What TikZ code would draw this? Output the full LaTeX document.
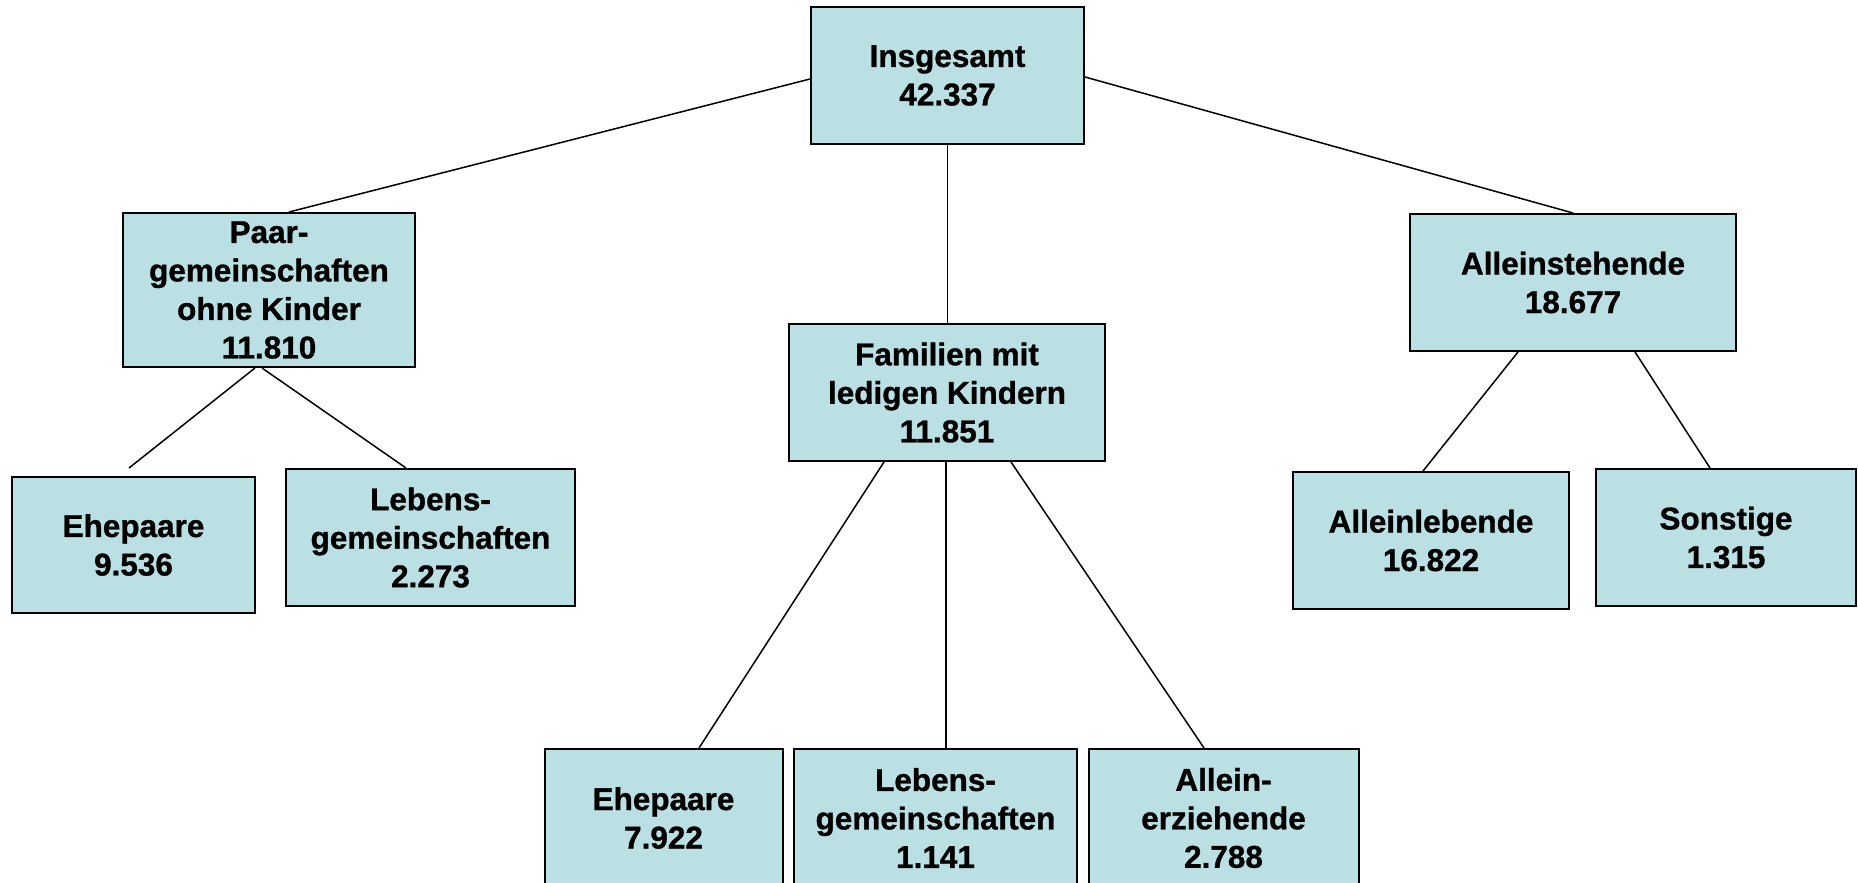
\documentclass[tikz,border=0pt]{standalone}
\usepackage{fontspec}
\setmainfont{Liberation Sans}
\newfontfamily\boxfont{Liberation Sans Bold}[FakeBold=1]
\definecolor{boxfill}{RGB}{187,224,227}
\begin{document}
\begin{tikzpicture}[x=1pt,y=1pt,
  box/.style={draw=black, line width=2pt, fill=boxfill, inner sep=0pt,
    align=center, font=\boxfont\fontsize{31.5}{38.5}\selectfont},
  link/.style={draw=black, line width=1.5pt}]
\useasboundingbox (0,0) rectangle (1858,-883);
\clip (0,0) rectangle (1858,-883);
\fill[white] (0,0) rectangle (1858,-883);
% top
\node[box, minimum width=273, minimum height=137] (ins) at (947.5,-75.5) {Insgesamt\\42.337};
% level 2
\node[box, minimum width=292, minimum height=154] (paar) at (269,-290) {Paar-\\gemeinschaften\\ohne Kinder\\11.810};
\node[box, minimum width=316, minimum height=137] (fam) at (947,-392.5) {Familien mit\\ledigen Kindern\\11.851};
\node[box, minimum width=326, minimum height=137] (allst) at (1573,-282.5) {Alleinstehende\\18.677};
% level 3
\node[box, minimum width=243, minimum height=136] (ehe1) at (133.5,-545) {Ehepaare\\9.536};
\node[box, minimum width=289, minimum height=137] (leb1) at (430.5,-537.5) {Lebens-\\gemeinschaften\\2.273};
\node[box, minimum width=238, minimum height=138] (ehe2) at (663.5,-818) {Ehepaare\\7.922};
\node[box, minimum width=283, minimum height=138] (leb2) at (935.5,-818) {Lebens-\\gemeinschaften\\1.141};
\node[box, minimum width=270, minimum height=138] (all2) at (1223.5,-818) {Allein-\\erziehende\\2.788};
\node[box, minimum width=276, minimum height=137] (alleb) at (1431,-540.5) {Alleinlebende\\16.822};
\node[box, minimum width=260, minimum height=137] (sonst) at (1726,-537.5) {Sonstige\\1.315};
% connectors
\draw[link] ([yshift=-3.5]ins.west) -- ([xshift=20]paar.north);
\draw[link] ([yshift=-1.5]ins.east) -- (allst.north);
\draw[link] (ins.south) -- (ins.south |- fam.north);
\draw[link] ([xshift=-14]paar.south) -- ([xshift=-4.5,yshift=8]ehe1.north);
\draw[link] ([xshift=-7]paar.south) -- ([xshift=-24.5]leb1.north);
\draw[link] ([xshift=-63]fam.south) -- ([xshift=35.5]ehe2.north);
\draw[link] ([xshift=-1]fam.south) -- ([xshift=10.5]leb2.north);
\draw[link] ([xshift=64]fam.south) -- ([xshift=-19.5]all2.north);
\draw[link] ([xshift=-55]allst.south) -- ([xshift=-8]alleb.north);
\draw[link] ([xshift=62]allst.south) -- ([xshift=-16]sonst.north);
\end{tikzpicture}
\end{document}
